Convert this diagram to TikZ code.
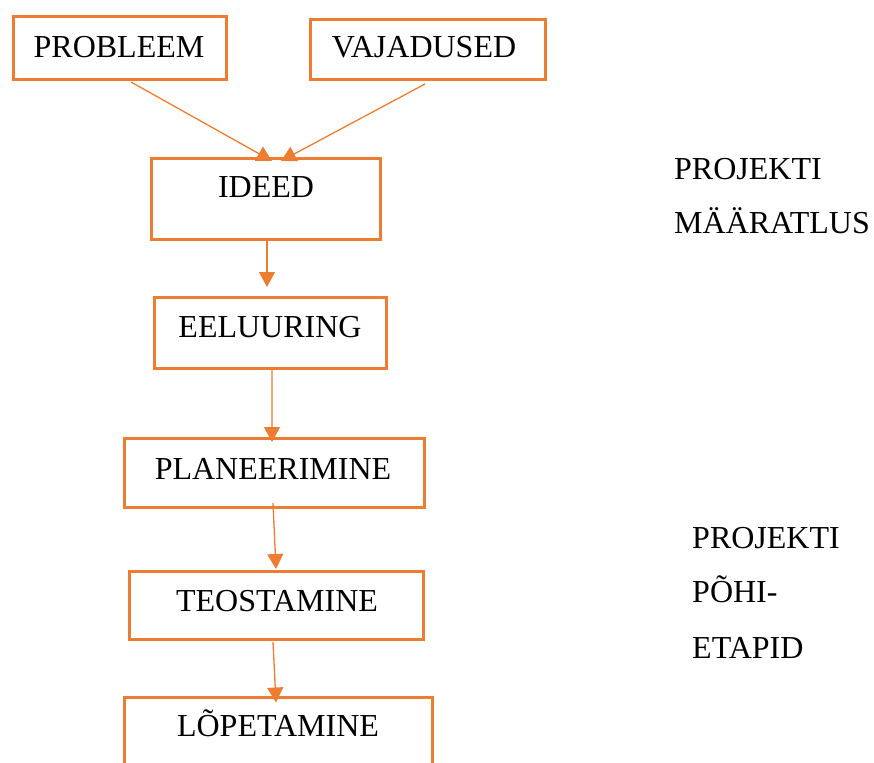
\documentclass[tikz,border=0pt]{standalone}
\usepackage{fontspec}
\setmainfont{Liberation Serif}
\usetikzlibrary{arrows.meta}
\definecolor{accent}{HTML}{ED7D31}
\begin{document}
\begin{tikzpicture}[x=1bp,y=-1bp,
  box/.style={draw=accent,line width=3bp,rectangle,inner sep=0pt},
  lbl/.style={font=\fontsize{32bp}{38bp}\selectfont,inner sep=0pt,anchor=base},
  side/.style={font=\fontsize{32bp}{38bp}\selectfont,inner sep=0pt,anchor=base west},
  arr/.style={draw=accent,line width=1.3bp,-{Triangle[length=15bp,width=16bp]}}]
\useasboundingbox (0,0) rectangle (874,763);
\clip (0,0) rectangle (874,763);
% boxes
\node[box,minimum width=213bp,minimum height=63bp] (probleem) at (120,48) {};
\node[box,minimum width=235bp,minimum height=60bp] (vajadused) at (428,49.5) {};
\node[box,minimum width=229bp,minimum height=81bp] (ideed) at (266,199) {};
\node[box,minimum width=232bp,minimum height=71bp] (eeluuring) at (270.5,333) {};
\node[box,minimum width=300bp,minimum height=69bp] (planeerimine) at (274.5,473) {};
\node[box,minimum width=294bp,minimum height=68bp] (teostamine) at (276.5,605.5) {};
\node[box,minimum width=308bp,minimum height=72bp] (lopetamine) at (278.5,733) {};
% texts in boxes
\node[lbl] (tprobleem) at (119,58) {PROBLEEM};
\node[lbl] (tvajadused) at (424,58) {VAJADUSED};
\node[lbl] (tideed) at (266,197) {IDEED};
\node[lbl] (teeluuring) at (270,337) {EELUURING};
\node[lbl] (tplaneerimine) at (273,479) {PLANEERIMINE};
\node[lbl] (tteostamine) at (277,611) {TEOSTAMINE};
\node[lbl] (tlopetamine) at (278,736) {LÕPETAMINE};
% side texts
\node[side] (s1) at (674,179) {PROJEKTI};
\node[side] (s2) at (674,233) {MÄÄRATLUS};
\node[side] (s3) at (692,548) {PROJEKTI};
\node[side] (s4) at (692,602) {PÕHI-};
\node[side] (s5) at (692,658) {ETAPID};
% connectors
\draw[arr] ([shift={(11,1)}]probleem.south) -- ([shift={(6,4)}]ideed.north);
\draw[arr] ([shift={(-3,3)}]vajadused.south) -- ([shift={(15,4)}]ideed.north);
\draw[arr] ([shift={(1,0)}]ideed.south) -- ([shift={(-3.5,-9)}]eeluuring.north);
\draw[arr] ([shift={(1.5,0)}]eeluuring.south) -- ([shift={(-2.5,5)}]planeerimine.north);
\draw[arr] ([shift={(-1.5,-6)}]planeerimine.south) -- ([shift={(-0.5,-1)}]teostamine.north);
\draw[arr] ([shift={(-3.5,1)}]teostamine.south) -- ([shift={(-2.5,7)}]lopetamine.north);
\end{tikzpicture}
\end{document}
